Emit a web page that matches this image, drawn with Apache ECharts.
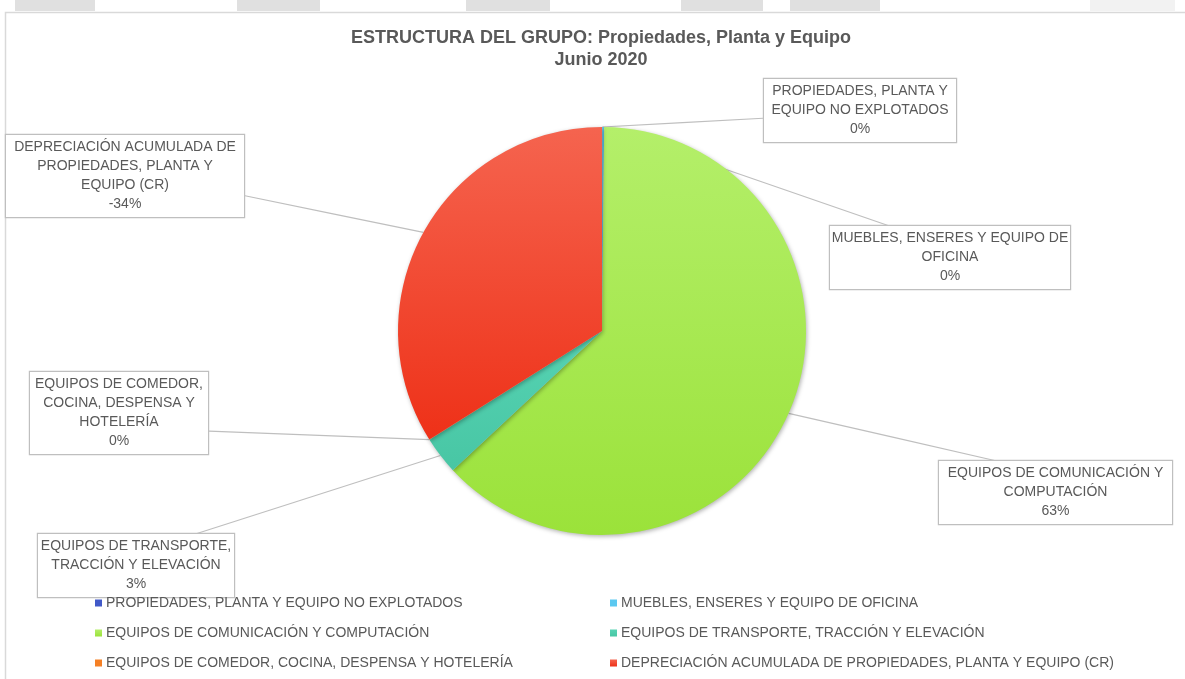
<!DOCTYPE html>
<html>
<head>
<meta charset="utf-8">
<script src="https://cdn.jsdelivr.net/npm/echarts@6/dist/echarts.min.js"></script>
<style>
    html, body { margin: 0; padding: 0; background: #fff; }
    #chart { width: 1185px; height: 679px; }
</style>
</head>
<body>
<div id="chart"></div>
<script>
    // categorias y valores (% del grupo, con signo como en la etiqueta)
    const categorias = [
        'PROPIEDADES, PLANTA Y EQUIPO NO EXPLOTADOS',
        'MUEBLES, ENSERES Y EQUIPO DE OFICINA',
        'EQUIPOS DE COMUNICACIÓN Y COMPUTACIÓN',
        'EQUIPOS DE TRANSPORTE, TRACCIÓN Y ELEVACIÓN',
        'EQUIPOS DE COMEDOR, COCINA, DESPENSA Y HOTELERÍA',
        'DEPRECIACIÓN ACUMULADA DE PROPIEDADES, PLANTA Y EQUIPO (CR)'
    ];
    const etiquetas = [
        'PROPIEDADES, PLANTA Y\nEQUIPO NO EXPLOTADOS',
        'MUEBLES, ENSERES Y EQUIPO DE\nOFICINA',
        'EQUIPOS DE COMUNICACIÓN Y\nCOMPUTACIÓN',
        'EQUIPOS DE TRANSPORTE,\nTRACCIÓN Y ELEVACIÓN',
        'EQUIPOS DE COMEDOR,\nCOCINA, DESPENSA Y\nHOTELERÍA',
        'DEPRECIACIÓN ACUMULADA DE\nPROPIEDADES, PLANTA Y\nEQUIPO (CR)'
    ];
    const valores = [0.02, 0.15, 63, 3, 0.02, -34];

    const colores = [
        '#4159c8',
        '#5bc8f0',
        ['#b4ef6a', '#9be23a'],
        ['#56d3b3', '#48c6a4'],
        '#f58025',
        ['#f5644f', '#ee3118']
    ];

    // cajas de etiqueta: [izquierda, arriba, ancho]
    const cajas = [[763, 79, 194], [829, 226, 242], [938, 461, 235], [37, 534, 198], [29, 372, 180], [5, 135, 240]];
    // punto donde la guía toca la caja (fracción ancho, alto)
    const enganches = [[0, 0.6], [0.25, 0], [0.25, 0], [0.8, 0], [1, 0.7], [1, 0.72]];

    const fuente = '"Liberation Sans", Arial, sans-serif';

    function color(c) {
        if (Array.isArray(c)) {
            return new echarts.graphic.LinearGradient(0, 0, 0, 1, [
                { offset: 0, color: c[0] },
                { offset: 1, color: c[1] }
            ]);
        }
        return c;
    }

    const chart = echarts.init(document.getElementById('chart'));

    const franjas = [[15, 95, '#e0e0e0'], [237, 320, '#e0e0e0'], [466, 550, '#e0e0e0'],
        [681, 763, '#e0e0e0'], [790, 880, '#e0e0e0'], [1090, 1175, '#f2f2f2']];

    chart.setOption({
        animation: false,
        graphic: franjas.map(f => ({
            type: 'rect', z: -10, silent: true,
            shape: { x: f[0], y: 0, width: f[1] - f[0], height: 11 },
            style: { fill: f[2] }
        })).concat([{
            type: 'rect', z: -10, silent: true,
            shape: { x: 5.5, y: 12.5, width: 1300, height: 800 },
            style: { fill: 'none', stroke: '#d9d9d9', lineWidth: 1.5 }
        }]),
        title: {
            text: 'ESTRUCTURA DEL GRUPO: Propiedades, Planta y Equipo\nJunio 2020',
            left: 601,
            top: 27,
            padding: 0,
            textAlign: 'center',
            textStyle: {
                fontFamily: fuente,
                fontWeight: 'bold',
                fontSize: 18,
                lineHeight: 22,
                color: '#595959'
            }
        },
        legend: [0, 1].map(col => ({
            data: categorias.filter((c, i) => i % 2 === col),
            orient: 'vertical',
            left: col === 0 ? 95 : 610,
            top: 595,
            padding: 0,
            icon: 'rect',
            itemWidth: 7,
            itemHeight: 7,
            itemGap: 14,
            selectedMode: false,
            textStyle: { fontFamily: fuente, fontSize: 14, lineHeight: 16, color: '#595959', padding: [0, 0, 0, -1] }
        })),
        series: [{
            type: 'pie',
            center: [602, 331],
            radius: 204,
            startAngle: 90,
            clockwise: true,
            avoidLabelOverlap: false,
            minShowLabelAngle: 0,
            itemStyle: {
                shadowBlur: 4,
                shadowColor: 'rgba(0,0,0,0.3)',
                shadowOffsetX: 1,
                shadowOffsetY: 1.5
            },
            label: {
                show: true,
                position: 'outer',
                fontFamily: fuente,
                fontSize: 14,
                lineHeight: 19,
                color: '#595959',
                align: 'center',
                backgroundColor: '#fff',
                borderColor: '#bfbfbf',
                borderWidth: 1.2,
                padding: [3, 0],
                formatter: p => etiquetas[p.dataIndex] + '\n' + Math.round(valores[p.dataIndex]) + '%'
            },
            labelLine: {
                show: true,
                length: 10,
                length2: 10,
                lineStyle: { color: '#bfbfbf', width: 1.2 }
            },
            labelLayout: function (p) {
                const c = cajas[p.dataIndex];
                const e = enganches[p.dataIndex];
                const h = p.labelRect.height;
                const fin = [c[0] + c[2] * e[0], c[1] + h * e[1]];
                const out = { x: c[0] + c[2] / 2, y: c[1], align: 'center', verticalAlign: 'top' };
                if (p.labelLinePoints) {
                    const p0 = p.labelLinePoints[0];
                    out.labelLinePoints = [[p0[0], p0[1]], [(p0[0] + fin[0]) / 2, (p0[1] + fin[1]) / 2], fin];
                }
                return out;
            },
            data: categorias.map((n, i) => ({
                name: n,
                value: Math.abs(valores[i]),
                itemStyle: { color: color(colores[i]) },
                label: { width: cajas[i][2] - 2 }
            }))
        }]
    });
</script>
</body>
</html>
